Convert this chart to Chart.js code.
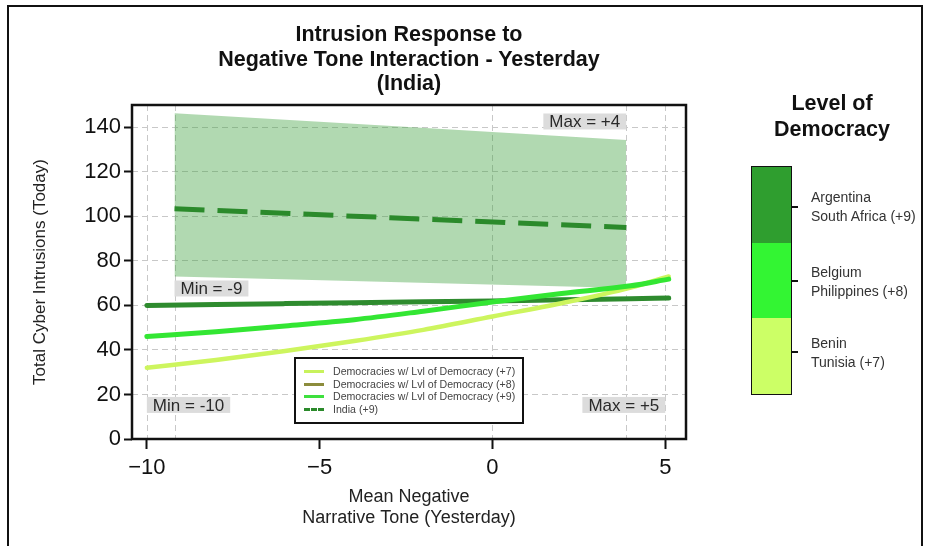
<!DOCTYPE html>
<html>
<head>
<meta charset="utf-8">
<script src="https://cdn.jsdelivr.net/npm/chart.js@4.4.1/dist/chart.umd.min.js"></script>
<style>
  body { margin: 0; background: #fff; font-family: "Liberation Sans", Arial, sans-serif; }
  #wrap { position: relative; width: 928px; height: 546px; overflow: hidden; }
  #c { position: absolute; left: 0; top: 0; }
  #frame { position: absolute; left: 7px; top: 5px; width: 912px; height: 600px; border: 2px solid #111; }
  #title { position: absolute; left: 159px; width: 500px; top: 22px; text-align: center;
           font-weight: bold; font-size: 21.5px; line-height: 24.5px; color: #111; }
  #leg { position: absolute; left: 294px; top: 357px; width: 226px; height: 63px;
         border: 2px solid #111; background: #fff; }
  #leg .row { position: absolute; left: 0; height: 13px; line-height: 13px; font-size: 10.6px; color: #444; white-space: nowrap; }
  #leg .smp { position: absolute; left: 8px; top: 5px; width: 20px; height: 0; border-top: 3px solid; }
  #leg .txt { position: absolute; left: 37px; top: 0; }
  #cbTitle { position: absolute; left: 752px; width: 160px; top: 90px; text-align: center;
             font-weight: bold; font-size: 21.5px; line-height: 26px; color: #111; }
  #cbar { position: absolute; left: 751px; top: 166px; width: 39px; height: 227px; border: 1.5px solid #111;
          display: flex; flex-direction: column; }
  #cbar div { flex: 1; }
  .cbtick { position: absolute; left: 792px; width: 6px; height: 1.5px; background: #111; }
  .cblab { position: absolute; left: 811px; font-size: 14px; line-height: 19px; color: #333; white-space: nowrap; }
</style>
</head>
<body>
<div id="wrap">
  <canvas id="c" width="928" height="546"></canvas>
  <div id="frame"></div>
  <div id="title">Intrusion Response to<br>Negative Tone Interaction - Yesterday<br>(India)</div>
  <div id="leg"></div>
  <div id="cbTitle">Level of<br>Democracy</div>
  <div id="cbar"></div>
</div>
<script>
// values
const xVals = [-10, -8, -6, -4, -2, 0, 2, 4, 5.1];
const lvl7 = [32, 35.5, 39.5, 44, 49, 55, 61, 68, 73];
const lvl8 = [46, 48.2, 50.8, 53.6, 57.4, 61.5, 65.3, 68.8, 71.8];
const lvl9 = [60, 60.4, 60.8, 61.2, 61.6, 62, 62.5, 63, 63.3];

const indiaX = [-9.2, 3.87];
const indiaMean = [103.4, 95];
const indiaUpper = [146.3, 134.3];
const indiaLower = [73, 67.8];

const xTicks = [-10, -5, 0, 5];
const yTicks = [0, 20, 40, 60, 80, 100, 120, 140];
const xGuides = [-10, -9.2, 0, 3.87, 5];

const noteText = ['Min = -10', 'Max = +5', 'Min = -9', 'Max = +4'];
const noteX = [-10, 5, -9.2, 3.87];
const noteY = [15.3, 15.3, 67.6, 142.6];

const legendLabels = ['Democracies w/ Lvl of Democracy (+7)', 'Democracies w/ Lvl of Democracy (+8)',
                      'Democracies w/ Lvl of Democracy (+9)', 'India (+9)'];
const levelNames = [['Argentina', 'South Africa (+9)'], ['Belgium', 'Philippines (+8)'], ['Benin', 'Tunisia (+7)']];

const FONT = '"Liberation Sans", Arial, sans-serif';
Chart.defaults.font.family = FONT;

function pts(xs, ys) {
  return xs.map((x, i) => ({ x: x, y: ys[i] }));
}

function fmt(v) {
  return v < 0 ? '\u2212' + Math.abs(v) : String(v);
}

// html legend inside the plot
const legColors = ['#c8f25c', '#8c8c3c', '#3ee03e', '#2b8a2b'];
const leg = document.getElementById('leg');
legendLabels.forEach((lab, i) => {
  const row = document.createElement('div');
  row.className = 'row';
  row.style.top = (6 + i * 12.7) + 'px';
  row.style.width = '220px';
  const smp = document.createElement('div');
  smp.className = 'smp';
  smp.style.borderTopColor = legColors[i];
  if (i === 3) smp.style.borderTopStyle = 'dashed';
  const txt = document.createElement('span');
  txt.className = 'txt';
  txt.textContent = lab;
  row.appendChild(smp);
  row.appendChild(txt);
  leg.appendChild(row);
});

// colour bar on the right
const barColors = ['#2f9e2f', '#33f533', '#ccff66'];
const cbar = document.getElementById('cbar');
const wrap = document.getElementById('wrap');
const tickTops = [206, 280, 351];
const labTops = [188, 263, 334];
barColors.forEach((col, i) => {
  const d = document.createElement('div');
  d.style.background = col;
  cbar.appendChild(d);
  const t = document.createElement('div');
  t.className = 'cbtick';
  t.style.top = tickTops[i] + 'px';
  wrap.appendChild(t);
  const l = document.createElement('div');
  l.className = 'cblab';
  l.style.top = labTops[i] + 'px';
  l.innerHTML = levelNames[i].join('<br>');
  wrap.appendChild(l);
});

const guidesPlugin = {
  id: 'guides',
  beforeDatasetsDraw(chart) {
    const { ctx, chartArea: a, scales: { x, y } } = chart;
    ctx.save();
    ctx.strokeStyle = '#c8c8c8';
    ctx.lineWidth = 1;
    ctx.setLineDash([6, 4]);
    xGuides.forEach(v => {
      const px = Math.round(x.getPixelForValue(v)) + 0.5;
      ctx.beginPath();
      ctx.moveTo(px, a.top);
      ctx.lineTo(px, a.bottom);
      ctx.stroke();
    });
    ctx.setLineDash([]);
    ctx.font = '17px ' + FONT;
    ctx.textBaseline = 'middle';
    noteText.forEach((t, i) => {
      const w = ctx.measureText(t).width + 12;
      const px = x.getPixelForValue(noteX[i]);
      const py = y.getPixelForValue(noteY[i]);
      const left = i % 2 === 0 ? px : px - w;
      ctx.fillStyle = '#dcdcdc';
      ctx.fillRect(left, py - 8, w, 16);
      ctx.fillStyle = '#2a2a2a';
      ctx.fillText(t, left + 6, py + 1);
    });
    ctx.restore();
  },
  afterDraw(chart) {
    const { ctx, chartArea: a } = chart;
    ctx.save();
    ctx.strokeStyle = '#111';
    ctx.lineWidth = 2.5;
    ctx.strokeRect(a.left, a.top, a.right - a.left, a.bottom - a.top);
    ctx.restore();
  }
};

new Chart(document.getElementById('c'), {
  type: 'line',
  data: {
    datasets: [
      { label: 'upper', data: pts(indiaX, indiaUpper), fill: '+1', backgroundColor: 'rgba(60,160,60,0.4)',
        borderColor: 'transparent', borderWidth: 0, order: 6 },
      { label: 'lower', data: pts(indiaX, indiaLower), fill: false, borderColor: 'transparent', borderWidth: 0, order: 6 },
      { label: 'India (+9)', data: pts(indiaX, indiaMean), borderColor: '#2b8a2b', borderWidth: 5,
        borderDash: [30, 13], borderCapStyle: 'butt', fill: false, order: 5 },
      { label: '+9', data: pts(xVals, lvl9), borderColor: '#2e8b2e', borderWidth: 5, fill: false, order: 4 },
      { label: '+7', data: pts(xVals, lvl7), borderColor: '#cdf55e', borderWidth: 4.5, fill: false, order: 3 },
      { label: '+8', data: pts(xVals, lvl8), borderColor: '#33e633', borderWidth: 5, fill: false, order: 2 }
    ]
  },
  options: {
    responsive: false,
    animation: false,
    devicePixelRatio: 1,
    layout: { padding: { left: 20, right: 242, top: 105, bottom: 18 } },
    plugins: { legend: { display: false }, tooltip: { enabled: false } },
    elements: {
      point: { radius: 0 },
      line: { cubicInterpolationMode: 'monotone', borderCapStyle: 'round' }
    },
    scales: {
      x: {
        type: 'linear',
        min: -10.43,
        max: 5.6,
        afterBuildTicks: s => { s.ticks = xTicks.map(v => ({ value: v })); },
        afterFit: s => { s.height = 89; },
        grid: { drawOnChartArea: false, drawTicks: true, tickLength: 10, tickColor: '#111', tickWidth: 2 },
        border: { display: false },
        ticks: { font: { size: 22 }, color: '#111', padding: 6, maxRotation: 0, callback: v => fmt(v) },
        title: { display: true, text: ['Mean Negative', 'Narrative Tone (Yesterday)'], color: '#222',
                 font: { size: 18, lineHeight: 1.15 }, padding: { top: 0, bottom: 0 } }
      },
      y: {
        min: 0,
        max: 150,
        afterBuildTicks: s => { s.ticks = yTicks.map(v => ({ value: v })); },
        afterFit: s => { s.width = 112; },
        grid: { color: '#c8c8c8', lineWidth: 1, drawTicks: true, tickLength: 8, tickColor: '#111', tickWidth: 2, tickBorderDash: [] },
        border: { display: false, dash: [6, 4] },
        ticks: { font: { size: 22 }, color: '#111', padding: 3 },
        title: { display: true, text: 'Total Cyber Intrusions (Today)', color: '#222',
                 font: { size: 17 }, padding: { top: 10, bottom: 0 } }
      }
    }
  },
  plugins: [guidesPlugin]
});
</script>
</body>
</html>
